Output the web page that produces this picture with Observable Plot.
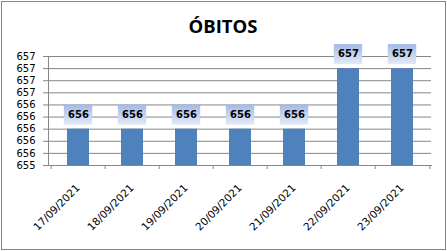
<!DOCTYPE html>
<html><head><meta charset="utf-8">
<script src="https://cdn.jsdelivr.net/npm/d3@7"></script>
<script src="https://cdn.jsdelivr.net/npm/@observablehq/plot@0.6"></script>
<style>
body{margin:0;background:#fff;}
#wrap{position:relative;width:447px;height:251px;overflow:hidden;}
#frame{position:absolute;left:1px;top:1px;width:443px;height:247px;border:1px solid #868686;}
#chart{position:absolute;left:0;top:0;}
</style>
</head><body>
<div id="wrap"><div id="frame"></div><div id="chart"></div></div>
<script>
const dates = ["17/09/2021","18/09/2021","19/09/2021","20/09/2021","21/09/2021","22/09/2021","23/09/2021"];
const obitos = [656,656,656,656,656,657,657];
const yTicks = [655.4,655.6,655.8,656.0,656.2,656.4,656.6,656.8,657.0,657.2];
const yTickLabels = ["655","656","656","656","656","656","657","657","657","657"];
const yMin = 655.4, yMax = 657.2;
const titleText = "ÓBITOS";
const data = dates.map((d,i)=>({date:d, value:obitos[i]}));

const W = 447, mL = 48, mR = 16;
const step = (W - mL - mR) / dates.length;

const plot = Plot.plot({
  width: W, height: 251,
  marginLeft: mL, marginRight: mR, marginTop: 56, marginBottom: 86,
  style: {fontFamily: "DejaVu Sans", fontSize: "10px", background: "transparent", color: "#000", overflow: "visible"},
  x: {domain: dates, paddingInner: 0.6, paddingOuter: 0.3, axis: null},
  y: {domain: [yMin, yMax], axis: null},
  marks: [
    Plot.gridY(yTicks, {stroke: "#868686", strokeOpacity: 1}),
    Plot.axisY({ticks: yTicks, tickFormat: d => yTickLabels[yTicks.indexOf(d)], label: null, tickSize: 5, tickPadding: 8, stroke: "#868686", fill: "#000", fontSize: 10}),
    Plot.frame({anchor: "left", stroke: "#868686"}),
    Plot.frame({anchor: "bottom", stroke: "#868686"}),
    Plot.ruleX(dates, {x: d => d, y1: yMin, y2: yMin, insetBottom: -4, dx: -step/2, stroke: "#868686"}),
    Plot.ruleX(dates.slice(-1), {x: d => d, y1: yMin, y2: yMin, insetBottom: -4, dx: step/2, stroke: "#868686"}),
    Plot.barY(data, {x: "date", y1: yMin, y2: "value", fill: "#4f81bd"}),
    Plot.barY(data, {x: "date", y1: "value", y2: "value", insetLeft: -3.2, insetRight: -3.2, insetTop: -24, insetBottom: 4, fill: "url(#lblgrad)"}),
    Plot.text(data, {x: "date", y: "value", text: d => String(d.value), dy: -14.5, fontWeight: "bold", fontSize: 10, fill: "#000"}),
    Plot.text(data, {x: "date", y: yMin, text: "date", rotate: -45, textAnchor: "end", lineAnchor: "bottom", dx: 2, dy: 23, fontSize: 10.5, fill: "#000"})
  ]
});

d3.select(plot).insert("defs", ":first-child").html('<linearGradient id="lblgrad" x1="0" y1="0" x2="0" y2="1"><stop offset="0" stop-color="#a2bae8"/><stop offset="1" stop-color="#e3eaf7"/></linearGradient>');
d3.select(plot).append("text").attr("x", 223).attr("y", 33).attr("text-anchor", "middle")
  .style("font-family", "'Open Sans'").style("font-weight", 700).style("font-size", "18.5px").attr("fill", "#000").text(titleText);

document.getElementById("chart").appendChild(plot);
</script>
</body></html>
